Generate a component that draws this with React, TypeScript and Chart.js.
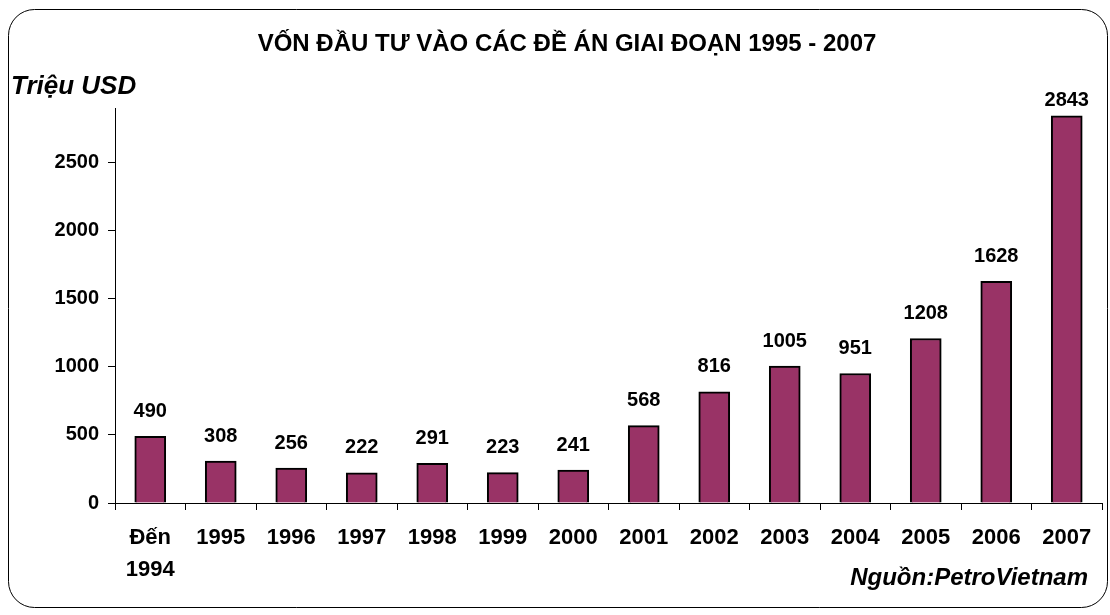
import React, { useEffect, useRef } from "react";
import { Chart, registerables } from "chart.js";

Chart.register(...registerables);

const categories: (string | string[])[] = [
  ["Đến", "1994"], "1995", "1996", "1997", "1998", "1999", "2000",
  "2001", "2002", "2003", "2004", "2005", "2006", "2007",
];
const investment: number[] = [490, 308, 256, 222, 291, 223, 241, 568, 816, 1005, 951, 1208, 1628, 2843];
const yTicks: number[] = [0, 500, 1000, 1500, 2000, 2500];

const TITLE = "VỐN ĐẦU TƯ VÀO CÁC ĐỀ ÁN GIAI ĐOẠN 1995 - 2007";
const UNIT = "Triệu USD";
const SOURCE = "Nguồn:PetroVietnam";
const FONT = "'Liberation Sans', Arial, sans-serif";

const decorPlugin = {
  id: "decor",
  beforeDraw(chart: any) {
    const ctx = chart.ctx;
    ctx.save();
    ctx.fillStyle = "#ffffff";
    ctx.fillRect(0, 0, chart.width, chart.height);
    const x = 8.5, y = 9.5, w = 1099, h = 598, r = 26;
    ctx.beginPath();
    ctx.moveTo(x + r, y);
    ctx.lineTo(x + w - r, y);
    ctx.arcTo(x + w, y, x + w, y + r, r);
    ctx.lineTo(x + w, y + h - r);
    ctx.arcTo(x + w, y + h, x + w - r, y + h, r);
    ctx.lineTo(x + r, y + h);
    ctx.arcTo(x, y + h, x, y + h - r, r);
    ctx.lineTo(x, y + r);
    ctx.arcTo(x, y, x + r, y, r);
    ctx.closePath();
    ctx.strokeStyle = "#000";
    ctx.lineWidth = 1;
    ctx.stroke();
    ctx.restore();
  },
  afterDraw(chart: any) {
    const ctx = chart.ctx;
    ctx.save();
    ctx.fillStyle = "#000";
    ctx.textBaseline = "middle";
    ctx.textAlign = "center";
    ctx.font = `bold 24px ${FONT}`;
    ctx.fillText(TITLE, 567, 44);
    ctx.textAlign = "left";
    ctx.font = `italic bold 26px ${FONT}`;
    ctx.fillText(UNIT, 11, 87);
    ctx.textAlign = "right";
    ctx.font = `italic bold 24px ${FONT}`;
    ctx.fillText(SOURCE, 1088, 578);
    const meta = chart.getDatasetMeta(0);
    ctx.textAlign = "center";
    ctx.font = `bold 20px ${FONT}`;
    meta.data.forEach((bar: any, i: number) => {
      const yy = Math.max(bar.y - 25, 100);
      ctx.fillText(String(investment[i]), bar.x, yy);
    });
    ctx.restore();
  },
};

export default function App() {
  const ref = useRef<HTMLCanvasElement | null>(null);
  useEffect(() => {
    document.body.style.margin = "0";
    const chart = new Chart(ref.current as HTMLCanvasElement, {
      type: "bar",
      data: {
        labels: categories,
        datasets: [
          {
            data: investment,
            backgroundColor: "#993366",
            borderColor: "#000000",
            borderWidth: 2,
            barThickness: 31,
          },
        ],
      },
      options: {
        responsive: false,
        animation: false,
        layout: { padding: { top: 108, right: 8, left: 0, bottom: 0 } },
        plugins: { legend: { display: false }, tooltip: { enabled: false }, title: { display: false } },
        scales: {
          x: {
            grid: { offset: true, drawOnChartArea: false, drawTicks: true, tickLength: 7, color: "#000", lineWidth: 1 },
            border: { color: "#000", width: 1 },
            ticks: {
              color: "#000",
              font: { family: FONT, size: 22, weight: "bold", lineHeight: 1.45 },
              padding: 12,
              maxRotation: 0,
              autoSkip: false,
            },
            afterFit(scale: any) { scale.height = 112; },
          },
          y: {
            min: 0,
            max: 2900,
            grid: { drawOnChartArea: false, drawTicks: true, tickLength: 7, color: "#000", lineWidth: 1 },
            border: { color: "#000", width: 1 },
            afterBuildTicks(scale: any) { scale.ticks = yTicks.map((v) => ({ value: v })); },
            ticks: {
              color: "#000",
              font: { family: FONT, size: 20, weight: "bold" },
              padding: 9,
              callback: (v: any) => String(v),
            },
            afterFit(scale: any) { scale.width = 115; },
          },
        },
      },
      plugins: [decorPlugin],
    } as any);
    return () => chart.destroy();
  }, []);
  return (
    <div style={{ position: "absolute", left: 0, top: 0, width: 1110, height: 615 }}>
      <canvas ref={ref} width={1110} height={615} style={{ display: "block" }} />
    </div>
  );
}
